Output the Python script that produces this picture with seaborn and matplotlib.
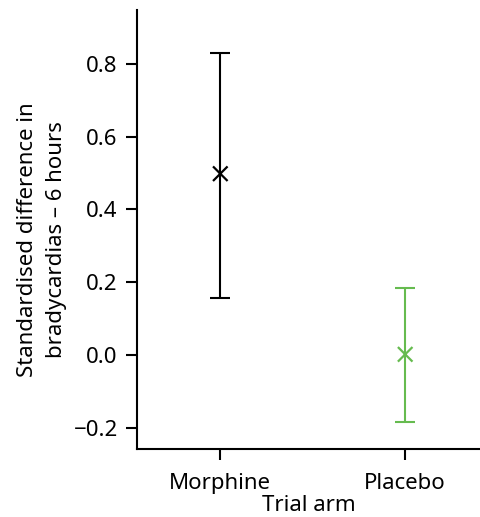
import matplotlib
matplotlib.use("Agg")
import matplotlib.pyplot as plt
import seaborn as sns
import pandas as pd

# Standardised difference in bradycardias at 6 hours, by trial arm
arms = ["Morphine", "Placebo"]
estimate = [0.498, 0.002]
ci_lower = [0.157, -0.184]
ci_upper = [0.830, 0.184]
arm_colors = ["#000000", "#66bb4f"]

df = pd.DataFrame({"arm": arms, "est": estimate, "lo": ci_lower, "hi": ci_upper})

sns.set_style("ticks")
plt.rcParams["font.family"] = ["Noto Sans", "DejaVu Sans"]
plt.rcParams["text.color"] = "black"
plt.rcParams["axes.labelcolor"] = "black"
plt.rcParams["xtick.color"] = "black"
plt.rcParams["ytick.color"] = "black"

fig = plt.figure(figsize=(4.81, 5.17), dpi=100)
ax = fig.add_axes([0.285, 0.1315, 0.715, 0.8495])

for i, row in df.iterrows():
    c = arm_colors[i]
    ax.errorbar(i, row["est"],
                yerr=[[row["est"] - row["lo"]], [row["hi"] - row["est"]]],
                fmt="none", ecolor=c, elinewidth=1.5, capsize=7, capthick=1.5)

sns.scatterplot(data=df.assign(x=range(len(df))), x="x", y="est", hue="arm",
                palette=arm_colors, marker="x", s=110, linewidth=1.6,
                legend=False, ax=ax, zorder=3)

ax.set_xlim(-0.45, 1.41)
ax.set_ylim(-0.258, 0.948)
ax.set_xticks(range(len(arms)))
ax.set_xticklabels(arms)
ax.set_yticks([-0.2, 0.0, 0.2, 0.4, 0.6, 0.8])
ax.set_yticklabels(["\u22120.2", "0.0", "0.2", "0.4", "0.6", "0.8"])
ax.tick_params(axis="x", labelsize=16, width=1.5, length=8, pad=9)
ax.tick_params(axis="y", labelsize=16, width=1.5, length=8, pad=6)
ax.set_xlabel("Trial arm", fontsize=16, labelpad=1)
ax.set_ylabel("Standardised difference in\nbradycardias \u2013 6 hours",
              fontsize=16, linespacing=1.5)
ax.yaxis.set_label_coords(-0.205, 0.476)
for s in ["left", "bottom"]:
    ax.spines[s].set_linewidth(1.5)
    ax.spines[s].set_color("black")
sns.despine(ax=ax)

fig.savefig("out.png", dpi=100)
